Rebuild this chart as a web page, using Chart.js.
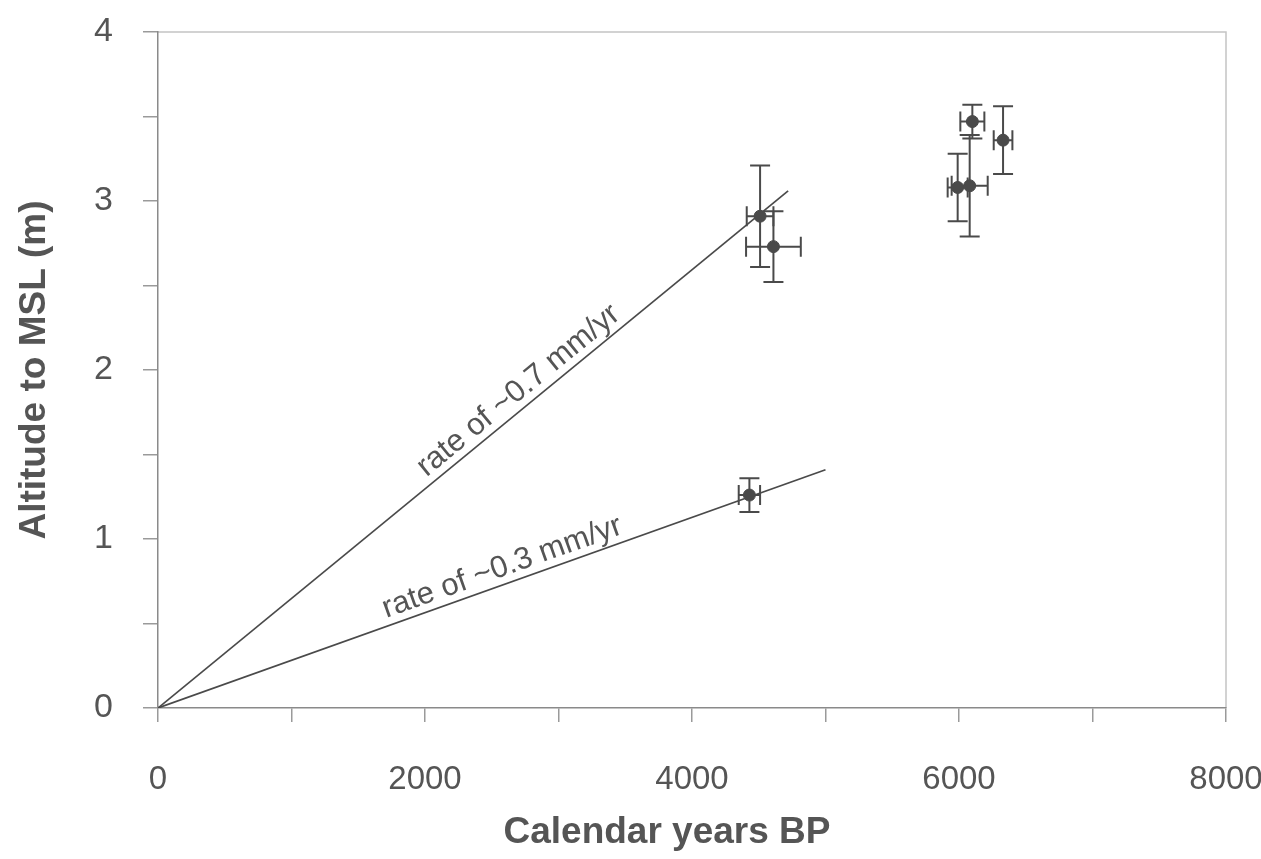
<!DOCTYPE html>
<html>
<head>
<meta charset="utf-8">
<script src="https://cdn.jsdelivr.net/npm/chart.js@4/dist/chart.umd.min.js"></script>
<style>
  html, body { margin: 0; padding: 0; background: #fff; }
  canvas { display: block; }
</style>
</head>
<body>
<canvas id="my-chart" width="1261" height="859"></canvas>
<script>
'use strict';

// #pragma Data

// dated samples: calendar age (yr BP) and altitude above MSL (m)
let sampleAges = [4510, 4610, 4430, 6100, 6330, 5990, 6080];
let sampleAltitudes = [2.91, 2.73, 1.26, 3.47, 3.36, 3.08, 3.09];
let ageErrors = [100, 205, 80, 90, 70, 75, 135];
let altitudeErrors = [0.3, 0.21, 0.1, 0.1, 0.2, 0.2, 0.3];

// rate lines, from the origin
let fastLineX = [0, 4720];
let fastLineY = [0, 3.06];
let slowLineX = [0, 5000];
let slowLineY = [0, 1.41];

let rateLabels = ['rate of ~0.7 mm/yr', 'rate of ~0.3 mm/yr'];
let rateLabelAt = [2780, 2620]; // x position along each line

let xTicks = [0, 2000, 4000, 6000, 8000];
let yTicks = [0, 1, 2, 3, 4];

let xTitle = 'Calendar years BP';
let yTitle = 'Altitude to MSL (m)';

// #pragma Helpers

let ink = '#4a4a4a';
let textGray = '#555555';
let fontFamily = '"Liberation Sans", Arial, sans-serif';

function toPoints(xs, ys) {
  let pts = [];
  for (let i = 0; i < xs.length; i++) {
    pts.push({ x: xs[i], y: ys[i] });
  }
  return pts;
}

// error bars with caps, drawn under the dots
let errorBarPlugin = {
  id: 'errorBars',
  beforeDatasetsDraw(chart) {
    let ctx = chart.ctx;
    let xs = chart.scales.x;
    let ys = chart.scales.y;
    let cap = 10;
    ctx.save();
    ctx.strokeStyle = ink;
    ctx.lineWidth = 2;
    for (let i = 0; i < sampleAges.length; i++) {
      let px = xs.getPixelForValue(sampleAges[i]);
      let py = ys.getPixelForValue(sampleAltitudes[i]);
      let x0 = xs.getPixelForValue(sampleAges[i] - ageErrors[i]);
      let x1 = xs.getPixelForValue(sampleAges[i] + ageErrors[i]);
      let y0 = ys.getPixelForValue(sampleAltitudes[i] - altitudeErrors[i]);
      let y1 = ys.getPixelForValue(sampleAltitudes[i] + altitudeErrors[i]);
      ctx.beginPath();
      ctx.moveTo(x0, py); ctx.lineTo(x1, py);
      ctx.moveTo(x0, py - cap); ctx.lineTo(x0, py + cap);
      ctx.moveTo(x1, py - cap); ctx.lineTo(x1, py + cap);
      ctx.moveTo(px, y0); ctx.lineTo(px, y1);
      ctx.moveTo(px - cap, y0); ctx.lineTo(px + cap, y0);
      ctx.moveTo(px - cap, y1); ctx.lineTo(px + cap, y1);
      ctx.stroke();
    }
    ctx.restore();
  }
};

// slanted text sitting on the rate lines
let rateLabelPlugin = {
  id: 'rateLabels',
  afterDatasetsDraw(chart) {
    let ctx = chart.ctx;
    let xs = chart.scales.x;
    let ys = chart.scales.y;
    let lines = [[fastLineX, fastLineY], [slowLineX, slowLineY]];
    ctx.save();
    ctx.fillStyle = textGray;
    ctx.font = '31px ' + fontFamily;
    ctx.textAlign = 'center';
    ctx.textBaseline = 'alphabetic';
    for (let i = 0; i < lines.length; i++) {
      let lx = lines[i][0];
      let ly = lines[i][1];
      let ax = xs.getPixelForValue(lx[0]);
      let ay = ys.getPixelForValue(ly[0]);
      let bx = xs.getPixelForValue(lx[1]);
      let by = ys.getPixelForValue(ly[1]);
      let angle = Math.atan2(by - ay, bx - ax);
      let t = rateLabelAt[i] / lx[1];
      let cx = xs.getPixelForValue(rateLabelAt[i]);
      let cy = ys.getPixelForValue(ly[0] + (ly[1] - ly[0]) * t);
      ctx.save();
      ctx.translate(cx, cy);
      ctx.rotate(angle);
      ctx.fillText(rateLabels[i], 0, -8);
      ctx.restore();
    }
    ctx.restore();
  }
};

// light frame on the top and right of the plot, plus the x title
let framePlugin = {
  id: 'frame',
  beforeDraw(chart) {
    let a = chart.chartArea;
    let ctx = chart.ctx;
    ctx.save();
    ctx.strokeStyle = '#c4c4c4';
    ctx.lineWidth = 1.5;
    ctx.beginPath();
    ctx.moveTo(a.left, a.top);
    ctx.lineTo(a.right, a.top);
    ctx.lineTo(a.right, a.bottom);
    ctx.stroke();

    // x title sits a bit left of the plot centre in the original
    ctx.fillStyle = textGray;
    ctx.font = 'bold 37px ' + fontFamily;
    ctx.textAlign = 'center';
    ctx.textBaseline = 'alphabetic';
    ctx.fillText(xTitle, (a.left + a.right) / 2 - 25, chart.height - 16);
    ctx.restore();
  }
};

// #pragma Chart

let chartContext = document.getElementById('my-chart').getContext('2d');

let chartConfig = {
  type: 'scatter',
  data: {
    datasets: [{
      label: 'samples',
      data: toPoints(sampleAges, sampleAltitudes),
      backgroundColor: ink,
      borderColor: ink,
      pointRadius: 6,
      pointHoverRadius: 6,
      order: 0,
    }, {
      label: 'fast',
      type: 'line',
      data: toPoints(fastLineX, fastLineY),
      borderColor: ink,
      borderWidth: 1.7,
      pointRadius: 0,
      fill: false,
      order: 1,
    }, {
      label: 'slow',
      type: 'line',
      data: toPoints(slowLineX, slowLineY),
      borderColor: ink,
      borderWidth: 1.7,
      pointRadius: 0,
      fill: false,
      order: 1,
    }],
  },
  options: {
    responsive: false,
    animation: false,
    devicePixelRatio: 1,
    layout: { padding: { left: 0, top: 32, right: 35, bottom: 0 } },
    plugins: {
      legend: { display: false },
      tooltip: { enabled: false },
    },
    scales: {
      x: {
        type: 'linear',
        min: 0,
        max: 8000,
        afterFit(scale) {
          scale.height = 151;
          scale.paddingLeft = 0;
          scale.paddingRight = 0;
        },
        afterBuildTicks(scale) {
          let t = [];
          for (let v = 0; v <= 8000; v += 1000) t.push({ value: v });
          scale.ticks = t;
        },
        ticks: {
          autoSkip: false,
          maxRotation: 0,
          padding: 38,
          color: textGray,
          font: { family: fontFamily, size: 33 },
          callback(v) { return xTicks.includes(v) ? String(v) : ''; },
        },
        grid: { drawOnChartArea: false, drawTicks: true, tickLength: 14, color: '#9a9a9a', lineWidth: 1.5 },
        border: { display: true, color: '#8a8a8a', width: 1.5 },
        title: { display: false },
      },
      y: {
        type: 'linear',
        min: 0,
        max: 4,
        afterFit(scale) {
          scale.width = 158;
          scale.paddingTop = 0;
          scale.paddingBottom = 0;
        },
        afterBuildTicks(scale) {
          let t = [];
          for (let v = 0; v <= 8; v++) t.push({ value: v / 2 });
          scale.ticks = t;
        },
        ticks: {
          autoSkip: false,
          padding: 30,
          color: textGray,
          font: { family: fontFamily, size: 34 },
          callback(v) { return yTicks.includes(v) ? String(v) : ''; },
        },
        grid: { drawOnChartArea: false, drawTicks: true, tickLength: 15, color: '#9a9a9a', lineWidth: 1.5 },
        border: { display: true, color: '#8a8a8a', width: 1.5 },
        title: {
          display: true,
          text: yTitle,
          color: textGray,
          font: { family: fontFamily, size: 37, weight: 'bold' },
          padding: { top: 13, bottom: 0 },
        },
      },
    },
  },
  plugins: [framePlugin, errorBarPlugin, rateLabelPlugin],
};

let myChart = new Chart(chartContext, chartConfig);
</script>
</body>
</html>
